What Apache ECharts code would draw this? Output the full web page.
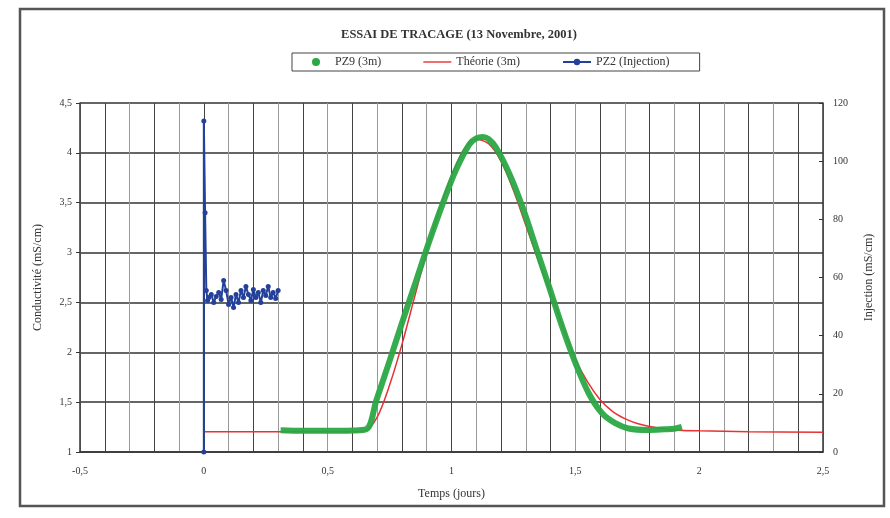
<!DOCTYPE html>
<html>
<head>
<meta charset="utf-8">
<script src="https://cdn.jsdelivr.net/npm/echarts@6/dist/echarts.min.js"></script>
<style>html,body{margin:0;padding:0;background:#fff;}#c{width:890px;height:518px;}</style>
</head>
<body>
<div id="c"></div>
<script>
// PZ2 (Injection) – left axis
var pz2X = [0, 0, 0.005, 0.01, 0.015, 0.02, 0.03, 0.04, 0.05, 0.06, 0.07, 0.08, 0.09, 0.10, 0.11, 0.12, 0.13, 0.14, 0.15, 0.16, 0.17, 0.18, 0.19, 0.20, 0.21, 0.22, 0.23, 0.24, 0.25, 0.26, 0.27, 0.28, 0.29, 0.30];
var pz2Y = [1, 4.32, 3.4, 2.62, 2.52, 2.55, 2.58, 2.50, 2.56, 2.60, 2.53, 2.72, 2.62, 2.48, 2.55, 2.45, 2.58, 2.50, 2.62, 2.55, 2.66, 2.58, 2.52, 2.63, 2.55, 2.60, 2.50, 2.62, 2.57, 2.66, 2.55, 2.60, 2.54, 2.62];
// PZ9 (3m) – right axis
var pz9X = [0.31, 0.4, 0.5, 0.6, 0.656, 0.697, 0.751, 0.804, 0.858, 0.912, 0.965, 1.018, 1.072, 1.10, 1.126, 1.15, 1.179, 1.233, 1.286, 1.34, 1.394, 1.447, 1.501, 1.554, 1.608, 1.661, 1.715, 1.795, 1.86, 1.9, 1.93];
var pz9Y = [7.5, 7.3, 7.3, 7.4, 7.8, 17.9, 31.6, 45.4, 59.1, 72.9, 85.5, 97, 105.8, 107.8, 108.3, 107.6, 104.8, 95.8, 84.4, 70.6, 56.8, 43.1, 30.5, 20.2, 13.3, 9.9, 8.1, 7.6, 7.8, 8.0, 8.6];
// Théorie (3m) – right axis
var theoX = [0, 0.3, 0.6, 0.65, 0.7, 0.75, 0.8, 0.85, 0.9, 0.95, 1.0, 1.05, 1.1, 1.15, 1.2, 1.25, 1.3, 1.35, 1.4, 1.45, 1.5, 1.55, 1.6, 1.65, 1.7, 1.75, 1.8, 1.9, 2.0, 2.2, 2.5];
var theoY = [7, 7, 7, 7.3, 12, 23, 37, 53, 69, 83, 95, 104, 107.5, 106, 100, 90, 78, 66, 55, 43, 32, 24, 18, 14, 11.5, 9.8, 8.8, 7.6, 7.3, 7.0, 6.8];

var titleText = 'ESSAI DE TRACAGE (13 Novembre, 2001)';
var xName = 'Temps (jours)';
var yLeftName = 'Conductivité (mS/cm)';
var yRightName = 'Injection (mS/cm)';

function pairs(xs, ys) { return xs.map(function (x, i) { return [x, ys[i]]; }); }
function fr(v) { return String(v).replace('.', ','); }

var font = 'Liberation Serif';
var chart = echarts.init(document.getElementById('c'), null, { renderer: 'canvas' });
chart.setOption({
  animation: false,
  backgroundColor: '#fff',
  textStyle: { fontFamily: font },
  graphic: [{
    type: 'rect', shape: { x: 20, y: 9, width: 864, height: 497 },
    style: { fill: 'none', stroke: '#555', lineWidth: 2.5 }, silent: true
  }],
  title: {
    text: titleText, left: 454, top: 23, textAlign: 'center',
    textStyle: { fontFamily: font, fontSize: 12.5, fontWeight: 'bold', color: '#333' }
  },
  legend: {
    left: 292, top: 53, padding: [3, 30, 3, 20],
    borderColor: '#444', borderWidth: 1,
    itemWidth: 28, itemHeight: 8, itemGap: 42,
    textStyle: { fontFamily: font, fontSize: 12, color: '#333' },
    data: [
      { name: 'PZ9 (3m)', icon: 'circle', itemStyle: { color: '#2aa845' } },
      { name: 'Théorie (3m)', icon: 'path://M0,0 M28,8 M0,3.3 L28,3.3 L28,4.7 L0,4.7 Z', itemStyle: { color: '#e63232' } },
      { name: 'PZ2 (Injection)' }
    ]
  },
  grid: { left: 80, right: 67, top: 103, bottom: 66 },
  xAxis: {
    type: 'value', min: -0.5, max: 2.5, interval: 0.1,
    name: xName, nameLocation: 'middle', nameGap: 36,
    nameTextStyle: { fontFamily: font, fontSize: 12, color: '#333' },
    axisLine: { onZero: false, lineStyle: { color: '#333', width: 1.5 } },
    axisTick: { show: false },
    axisLabel: {
      fontFamily: font, fontSize: 10, color: '#333', margin: 14,
      formatter: function (v) { var k = Math.round(v * 10); return (k % 5 === 0) ? fr(Math.round(v * 10) / 10) : ''; }
    },
    splitLine: { show: true, lineStyle: { color: ['#999', '#444'], width: 1 } }
  },
  yAxis: [{
    type: 'value', min: 1, max: 4.5, interval: 0.5, position: 'left',
    name: yLeftName, nameLocation: 'middle', nameGap: 36,
    nameTextStyle: { fontFamily: font, fontSize: 12, color: '#333' },
    axisLine: { show: true, onZero: false, lineStyle: { color: '#333', width: 1.5 } },
    axisTick: { show: true, length: 4, lineStyle: { color: '#333' } },
    axisLabel: { fontFamily: font, fontSize: 10, color: '#333', margin: 8, formatter: function (v) { return fr(v); } },
    splitLine: { show: true, lineStyle: { color: '#333', width: 1.5 } }
  }, {
    type: 'value', min: 0, max: 120, interval: 20, position: 'right',
    name: yRightName, nameLocation: 'middle', nameGap: 40,
    nameTextStyle: { fontFamily: font, fontSize: 12, color: '#333' },
    axisLine: { show: true, onZero: false, lineStyle: { color: '#333', width: 1.5 } },
    axisTick: { show: true, inside: true, length: 4, lineStyle: { color: '#333' } },
    axisLabel: { fontFamily: font, fontSize: 10, color: '#333', margin: 10 },
    splitLine: { show: false }
  }],
  series: [{
    name: 'PZ9 (3m)', type: 'line', yAxisIndex: 1, smooth: 0.35,
    data: pairs(pz9X, pz9Y), showSymbol: false, symbol: 'circle',
    itemStyle: { color: '#2aa845' },
    lineStyle: { color: '#2aa845', width: 6, opacity: 0.95 }, z: 3
  }, {
    name: 'Théorie (3m)', type: 'line', yAxisIndex: 1, smooth: 0.3,
    data: pairs(theoX, theoY), symbol: 'none',
    itemStyle: { color: '#e63232' },
    lineStyle: { color: '#e63232', width: 1.5 }, z: 2
  }, {
    name: 'PZ2 (Injection)', type: 'line', yAxisIndex: 0,
    data: pairs(pz2X, pz2Y), symbol: 'circle', symbolSize: 5, showSymbol: true,
    itemStyle: { color: '#23409a' },
    lineStyle: { color: '#23409a', width: 2 }, z: 4
  }]
});
</script>
</body>
</html>
